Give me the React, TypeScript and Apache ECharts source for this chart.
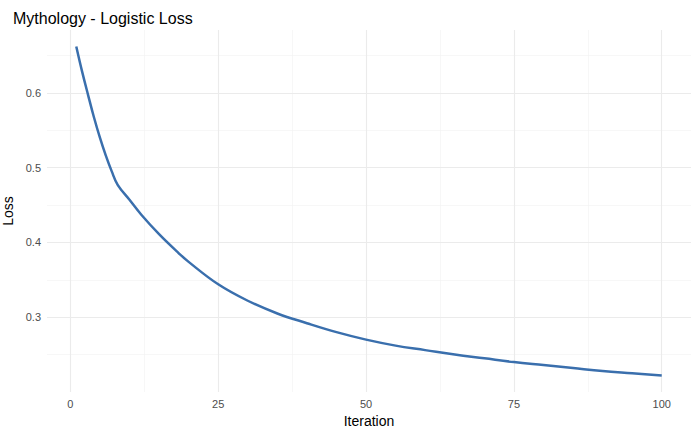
import React, { useEffect, useRef } from 'react';
import * as echarts from 'echarts';

const iterations = [1, 2, 3, 4, 5, 6, 7, 8, 10, 12, 15, 18, 20, 25, 30, 35, 40, 45, 50, 55, 60, 65, 70, 75, 80, 85, 90, 95, 100];
const loss = [0.662, 0.628, 0.597, 0.567, 0.540, 0.516, 0.495, 0.477, 0.457, 0.437, 0.411, 0.388, 0.374, 0.344, 0.322, 0.305, 0.292, 0.280, 0.270, 0.262, 0.256, 0.250, 0.245, 0.240, 0.236, 0.232, 0.228, 0.225, 0.222];

const xMajor = [0, 25, 50, 75, 100];
const xMinor = [12.5, 37.5, 62.5, 87.5];
const yMajor = [0.3, 0.4, 0.5, 0.6];
const yMinor = [0.25, 0.35, 0.45, 0.55, 0.65];

export default function App() {
  const ref = useRef<HTMLDivElement>(null);

  useEffect(() => {
    if (!ref.current) return;
    const chart = echarts.init(ref.current, undefined, { renderer: 'svg' });
    const minor = { color: '#f2f2f2', width: 0.6, type: 'solid' };
    const major = { color: '#ebebeb', width: 1.1, type: 'solid' };
    const lines = [
      ...xMinor.map(v => ({ xAxis: v, lineStyle: minor })),
      ...yMinor.map(v => ({ yAxis: v, lineStyle: minor })),
      ...xMajor.map(v => ({ xAxis: v, lineStyle: major })),
      ...yMajor.map(v => ({ yAxis: v, lineStyle: major })),
    ];
    chart.setOption({
      animation: false,
      textStyle: { fontFamily: 'Liberation Sans, Arial, sans-serif' },
      title: {
        text: 'Mythology - Logistic Loss',
        left: 8,
        top: 5,
        textStyle: { fontSize: 16, fontWeight: 'normal', color: '#000' },
      },
      grid: { left: 47, right: 9, top: 30, bottom: 40, outerBoundsMode: 'none', containLabel: false },
      xAxis: {
        type: 'value',
        min: -3.95,
        max: 104.95,
        name: 'Iteration',
        nameLocation: 'middle',
        nameGap: 20,
        nameTextStyle: { fontSize: 14, color: '#000' },
        axisLine: { show: false },
        axisTick: { show: false },
        splitLine: { show: false },
        axisLabel: { customValues: xMajor, color: '#4d4d4d', fontSize: 11, margin: 6 },
      },
      yAxis: {
        type: 'value',
        min: 0.2,
        max: 0.684,
        name: 'Loss',
        nameLocation: 'middle',
        nameGap: 32,
        nameTextStyle: { fontSize: 14, color: '#000' },
        axisLine: { show: false },
        axisTick: { show: false },
        splitLine: { show: false },
        axisLabel: { customValues: yMajor, color: '#4d4d4d', fontSize: 11, margin: 6, formatter: (v: number) => v.toFixed(1) },
      },
      series: [
        {
          type: 'line',
          data: [],
          markLine: { silent: true, symbol: 'none', label: { show: false }, data: lines },
          z: 1,
        },
        {
          type: 'line',
          data: iterations.map((x, i) => [x, loss[i]]),
          smooth: 0.4,
          showSymbol: false,
          lineStyle: { color: '#3a6fad', width: 2.5 },
          z: 5,
        },
      ],
    });
    return () => chart.dispose();
  }, []);

  return <div ref={ref} style={{ width: 700, height: 432, position: 'absolute', left: 0, top: 0 }} />;
}
